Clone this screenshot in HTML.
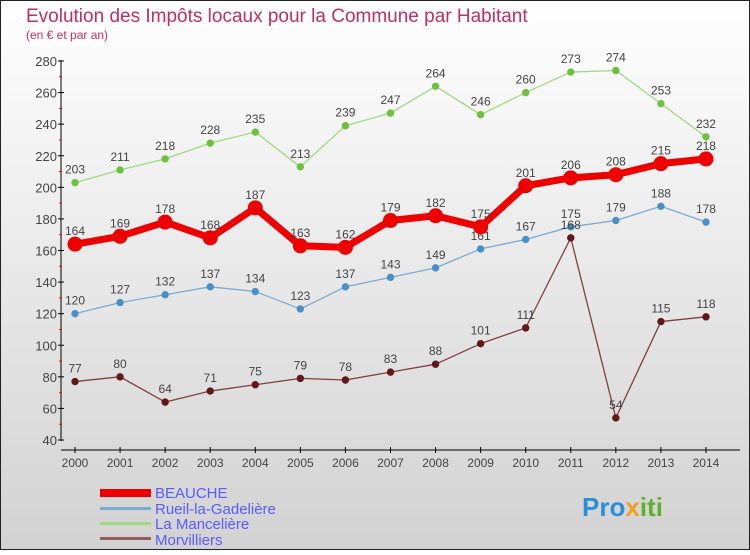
<!DOCTYPE html>
<html><head><meta charset="utf-8"><style>
body{margin:0;}
#c{width:750px;height:550px;}
text{font-family:"Liberation Sans",sans-serif;}
</style></head><body>
<div id="c">
<svg id="s" width="750" height="550" xmlns="http://www.w3.org/2000/svg">
<defs><linearGradient id="bg" x1="0" y1="0" x2="0" y2="1"><stop offset="0" stop-color="#ffffff"/><stop offset="1" stop-color="#d2d2d2"/></linearGradient></defs>
<rect x="0.5" y="0.5" width="749" height="549" fill="url(#bg)" stroke="#222"/>
<text x="26" y="22" font-size="19" fill="#c0305f">Evolution des Impôts locaux pour la Commune par Habitant</text>
<text x="26" y="39" font-size="12" fill="#c0305f">(en € et par an)</text>
<g id="axes"></g><g id="series"></g>
<g>
<rect x="100" y="489" width="51" height="8" fill="#ee0000"/>
<text x="155" y="498" font-size="15" fill="#5a5aff">BEAUCHE</text>
<rect x="100" y="507" width="51" height="3" fill="#7aabd0"/>
<text x="155" y="514" font-size="15" fill="#5a5aff">Rueil-la-Gadelière</text>
<rect x="100" y="522" width="51" height="3" fill="#a0d880"/>
<text x="155" y="529" font-size="15" fill="#5a5aff">La Mancelière</text>
<rect x="100" y="537" width="51" height="3" fill="#906060"/>
<text x="155" y="545" font-size="15" fill="#5a5aff">Morvilliers</text>
</g>
<g>
<text x="582" y="516" font-size="26" font-weight="bold" fill="#2a8fd8">Pro<tspan fill="#f0a020">x</tspan><tspan fill="#60b030">iti</tspan></text>
</g>
</svg></div>
<script>
const years=[2000,2001,2002,2003,2004,2005,2006,2007,2008,2009,2010,2011,2012,2013,2014];
const beauche=[164,169,178,168,187,163,162,179,182,175,201,206,208,215,218];
const rueil=[120,127,132,137,134,123,137,143,149,161,167,175,179,188,178];
const manceliere=[203,211,218,228,235,213,239,247,264,246,260,273,274,253,232];
const morvilliers=[77,80,64,71,75,79,78,83,88,101,111,168,54,115,118];
const yTicks=[40,60,80,100,120,140,160,180,200,220,240,260,280];
const NS='http://www.w3.org/2000/svg';
const x=i=>75+i*45.07;
const y=v=>440-(v-40)*(379/240);
function mk(t,a,p){const e=document.createElementNS(NS,t);for(const k in a)e.setAttribute(k,a[k]);p.appendChild(e);return e;}
const ax=document.getElementById('axes');
let l=mk('line',{x1:61,y1:60,x2:61,y2:441,stroke:'#000'},ax);

l=mk('line',{x1:61,y1:450,x2:740,y2:450,stroke:'#000'},ax);

yTicks.forEach((v,i)=>{
 mk('line',{x1:58,x2:64,y1:y(v),y2:y(v),stroke:'#000'},ax);
 if(i<yTicks.length-1)mk('line',{x1:59,x2:62,y1:y(v+10),y2:y(v+10),stroke:'#f00'},ax);
 const t=mk('text',{x:57,y:y(v)+5,'font-size':13,fill:'#444','text-anchor':'end'},ax);t.textContent=v;
 
});
years.forEach((yr,i)=>{
 mk('line',{x1:x(i),x2:x(i),y1:447,y2:453,stroke:'#000'},ax);
 const t=mk('text',{x:x(i),y:467,'font-size':12,fill:'#444','text-anchor':'middle'},ax);t.textContent=yr;
 
});
const sg=document.getElementById('series');
function draw(vals,name,col,dot,w,r,lblCol){
 const g=mk('g',{},sg);
 
 const pts=vals.map((v,i)=>x(i)+','+y(v)).join(' ');
 mk('polyline',{points:pts,fill:'none',stroke:col,'stroke-width':w,'stroke-linejoin':'round'},g);
 vals.forEach((v,i)=>{
  const c=mk('circle',{cx:x(i),cy:y(v),r:r,fill:dot,stroke:dot},g);
  
  const t=mk('text',{x:x(i),y:y(v)-9,'font-size':12,fill:'#444','text-anchor':'middle'},g);t.textContent=v;
  
 });
}
draw(manceliere,'la-manceliere','#a0d880','#70c040',1.3,3.2);
draw(rueil,'rueil-la-gadeliere','#7aabd0','#4a90c8',1.3,3.2);
draw(morvilliers,'morvilliers','#804040','#601818',1.3,3.2);
draw(beauche,'beauche','#ee0000','#ee0000',7,7);
</script>
</body></html>
